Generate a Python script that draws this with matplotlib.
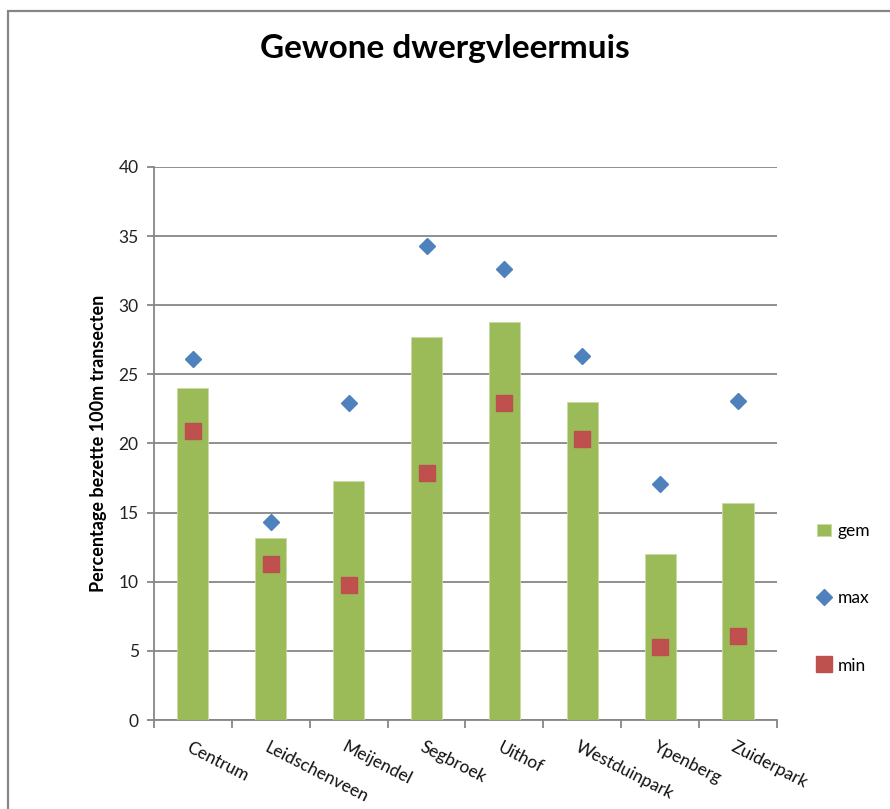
import numpy as np
import matplotlib
matplotlib.use("Agg")
import matplotlib.pyplot as plt
import matplotlib.transforms as mtransforms
from matplotlib.patches import Rectangle

plt.rcParams['font.family'] = ['Lato', 'DejaVu Sans']

# gebieden en percentages bezette 100m transecten
gebieden = ['Centrum', 'Leidschenveen', 'Meijendel', 'Segbroek',
            'Uithof', 'Westduinpark', 'Ypenberg', 'Zuiderpark']
gem = [24.0, 13.2, 17.3, 27.7, 28.8, 23.0, 12.0, 15.7]
maxi = [26.1, 14.3, 22.9, 34.3, 32.6, 26.3, 17.1, 23.1]
mini = [20.9, 11.3, 9.8, 17.9, 22.9, 20.3, 5.3, 6.1]

groen = '#9BBB59'
blauw = '#4F81BD'
rood = '#C0504D'
grijs = '#868686'

fig = plt.figure(figsize=(8.9, 8.09), dpi=100)
ax = fig.add_axes([0.173, 0.110, 0.700, 0.6836])

x = np.arange(len(gebieden))
b_gem = ax.bar(x, gem, width=0.4, color=groen, edgecolor='#C9DBA4',
               linewidth=0.6, label='gem', zorder=3)
l_max, = ax.plot(x, maxi, 'D', color=blauw, markersize=8.5, label='max',
                 zorder=4)
l_min, = ax.plot(x, mini, 's', color=rood, markersize=11,
                 markeredgecolor='#B9514D', label='min', zorder=5)

ax.set_xlim(-0.5, len(gebieden) - 0.5)
ax.set_ylim(0, 40)
ax.set_yticks(np.arange(0, 41, 5))
ax.yaxis.grid(True, color=grijs, linewidth=1.3, zorder=0)
ax.set_axisbelow(True)

for s in ['top', 'right']:
    ax.spines[s].set_visible(False)
for s in ['left', 'bottom']:
    ax.spines[s].set_color(grijs)
    ax.spines[s].set_linewidth(1.3)

ax.tick_params(axis='y', length=5, width=1.3, color=grijs, labelsize=12.5,
               labelcolor='#222222', pad=6)
# streepjes tussen de categorieen
ax.set_xticks(np.arange(-0.5, len(gebieden), 1.0))
ax.set_xticklabels([])
ax.tick_params(axis='x', length=6, width=1.3, color=grijs)

offset = mtransforms.ScaledTranslation(-2 / 100, -19 / 100, fig.dpi_scale_trans)
for xi, naam in zip(x, gebieden):
    ax.text(xi, 0, naam, rotation=-27, rotation_mode='anchor', ha='left',
            va='top', fontsize=12.5, color='#111111',
            transform=ax.get_xaxis_transform() + offset)

ax.set_ylabel('Percentage bezette 100m transecten', fontsize=13,
              fontweight='bold', labelpad=8)

fig.text(0.5, 0.94, 'Gewone dwergvleermuis', ha='center', va='center',
         fontsize=24, fontweight='bold')

leg = ax.legend([b_gem, l_max, l_min], ['gem', 'max', 'min'],
                loc='center left', bbox_to_anchor=(1.05, 0.22), frameon=False,
                fontsize=12.5, labelspacing=2.95, handlelength=0.8,
                handletextpad=0.4, borderpad=0)

# kader rond de grafiek
fig.patches.append(Rectangle((8 / 890, -0.1), 1.2, 1 - 11 / 809 + 0.1,
                             transform=fig.transFigure, fill=False,
                             edgecolor=grijs, linewidth=1.6))

fig.savefig('out.png', dpi=100)
